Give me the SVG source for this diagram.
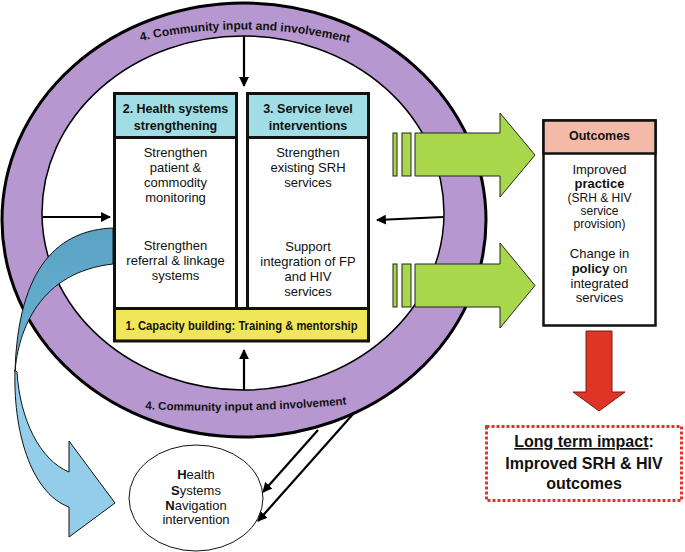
<svg xmlns="http://www.w3.org/2000/svg" width="685" height="552" viewBox="0 0 685 552">
<defs>
<style>
.body{font-family:"Liberation Sans",Arial,sans-serif;font-size:13px;fill:#111;text-anchor:middle}
.sm{font-size:12px}
.lg{font-size:16px;font-weight:bold}
.hdr{font-family:"Liberation Sans",Arial,sans-serif;font-size:12.5px;font-weight:bold;fill:#111;text-anchor:middle}
.cap{font-size:12px}
.ring{font-family:"Liberation Sans",Arial,sans-serif;font-weight:bold;fill:#111}
.b{font-weight:bold}
.box{stroke:#111;stroke-width:3}
.conn{stroke:#000;stroke-width:2.2;fill:none}
.green{fill:#a9d74b;stroke:#222;stroke-width:1}
</style>
<marker id="ah" viewBox="0 0 10 10" refX="9" refY="5" markerWidth="4.5" markerHeight="4.5" orient="auto" markerUnits="strokeWidth">
<path d="M0,0 L10,5 L0,10 Z" fill="#000"/>
</marker>
<linearGradient id="gb" x1="0" y1="0" x2="0" y2="1">
<stop offset="0" stop-color="#5aa3c5"/><stop offset="1" stop-color="#6ab2d2"/>
</linearGradient>
<path id="tp1" d="M 128 44 Q 245 14 362 46"/>
<path id="tp2" d="M 140 409 Q 245 414 352 404"/>
</defs>

<g id="ring">
<path fill="#b697cf" fill-rule="evenodd" d="M 2,220 A 242,217 0 1,0 486,220 A 242,217 0 1,0 2,220 Z M 42,213 A 201,177 0 1,0 444,213 A 201,177 0 1,0 42,213 Z"/>
<ellipse cx="244" cy="220" rx="242" ry="217" fill="none" stroke="#000" stroke-width="3"/>
<ellipse cx="243" cy="213" rx="201" ry="177" fill="none" stroke="#000" stroke-width="1.5"/>
<text class="ring" style="font-size:12px"><textPath href="#tp1" startOffset="50%" text-anchor="middle">4. Community input and involvement</textPath></text>
<text class="ring" style="font-size:11.5px"><textPath href="#tp2" startOffset="50%" text-anchor="middle">4. Community input and involvement</textPath></text>
</g>

<g id="connectors">
<line class="conn" x1="244" y1="36" x2="244" y2="86" marker-end="url(#ah)"/>
<line class="conn" x1="244" y1="390" x2="244" y2="350" marker-end="url(#ah)"/>
<line class="conn" x1="43" y1="217" x2="110" y2="217" marker-end="url(#ah)"/>
<line class="conn" x1="443" y1="217" x2="377" y2="220" marker-end="url(#ah)"/>
<line class="conn" x1="318" y1="430" x2="263" y2="492" marker-end="url(#ah)"/>
<line class="conn" x1="354" y1="413" x2="258" y2="521" marker-end="url(#ah)"/>
</g>

<g id="hss">
<rect class="box" x="114.5" y="93.5" width="122" height="215" fill="#fff"/>
<rect class="box" x="114.5" y="93.5" width="122" height="44" fill="#a0dde4"/>
<text class="hdr" x="175.5" y="113">2. Health systems</text>
<text class="hdr" x="175.5" y="130">strengthening</text>
<text class="body" x="175.5" y="156.5">Strengthen</text>
<text class="body" x="175.5" y="171.5">patient &amp;</text>
<text class="body" x="175.5" y="186.5">commodity</text>
<text class="body" x="175.5" y="201.5">monitoring</text>
<text class="body" x="175.5" y="249.5">Strengthen</text>
<text class="body" x="175.5" y="264.5">referral &amp; linkage</text>
<text class="body" x="175.5" y="279.5">systems</text>
</g>

<g id="sli">
<rect class="box" x="247.5" y="93.5" width="121" height="215" fill="#fff"/>
<rect class="box" x="247.5" y="93.5" width="121" height="44" fill="#a0dde4"/>
<text class="hdr" x="308" y="113">3. Service level</text>
<text class="hdr" x="308" y="130">interventions</text>
<text class="body" x="308" y="156.5">Strengthen</text>
<text class="body" x="308" y="171.5">existing SRH</text>
<text class="body" x="308" y="186.5">services</text>
<text class="body" x="308" y="250.5">Support</text>
<text class="body" x="308" y="265.5">integration of FP</text>
<text class="body" x="308" y="280.5">and HIV</text>
<text class="body" x="308" y="295.5">services</text>
</g>

<g id="capacity">
<rect class="box" x="114.5" y="308.5" width="254" height="32.5" fill="#f1e65a"/>
<text class="hdr cap" x="241.5" y="330" textLength="232" lengthAdjust="spacingAndGlyphs">1. Capacity building: Training &amp; mentorship</text>
</g>

<g id="hsn-arrow">
<path d="M113,228 C 60,230 18,265 15,372 C 18,330 40,272 113,264 Z" fill="url(#gb)" stroke="#111" stroke-width="1"/>
<path d="M15,370 C 13,440 35,495 69,507 L69,537 L115,503 L69,441 L69,472 C 40,460 20,420 17,372 Z" fill="#93cdea" stroke="#111" stroke-width="1"/>
</g>

<g id="green-arrows">
<rect class="green" x="393" y="133" width="4" height="43"/>
<rect class="green" x="402" y="133" width="9" height="43"/>
<path class="green" d="M415,133 L500,133 L500,113 L535,155 L500,197 L500,176 L415,176 Z"/>
<rect class="green" x="393" y="264" width="4" height="43"/>
<rect class="green" x="402" y="264" width="9" height="43"/>
<path class="green" d="M415,264 L500,264 L500,243 L535,285.5 L500,328 L500,307 L415,307 Z"/>
</g>

<g id="outcomes">
<rect x="543.5" y="120.5" width="112" height="205" fill="#fff" stroke="#111" stroke-width="2.5"/>
<rect x="543.5" y="120.5" width="112" height="33" fill="#f4baa8" stroke="#111" stroke-width="2.5"/>
<text class="hdr" x="599.5" y="139.5">Outcomes</text>
<text class="body" x="599.5" y="174">Improved</text>
<text class="body b" x="599.5" y="187.5">practice</text>
<text class="body sm" x="599.5" y="201.5">(SRH &amp; HIV</text>
<text class="body sm" x="599.5" y="214.5">service</text>
<text class="body sm" x="599.5" y="228">provision)</text>
<text class="body" x="599.5" y="258">Change in</text>
<text class="body" x="599.5" y="273"><tspan class="b">policy</tspan> on</text>
<text class="body" x="599.5" y="288">integrated</text>
<text class="body" x="599.5" y="302">services</text>
</g>

<g id="impact-arrow">
<path d="M586,331 L612,331 L612,392 L625,392 L599,411 L573,392 L586,392 Z" fill="#df3526" stroke="#7a1a10" stroke-width="1"/>
</g>

<g id="impact">
<rect x="486.5" y="426.5" width="195" height="74" fill="#fff" stroke="#e4332a" stroke-width="3" stroke-dasharray="3 2"/>
<text class="body lg" x="584" y="447"><tspan text-decoration="underline">Long term impact</tspan>:</text>
<text class="body lg" x="584" y="469">Improved SRH &amp; HIV</text>
<text class="body lg" x="584" y="489">outcomes</text>
</g>

<g id="hsn">
<ellipse cx="196" cy="498" rx="67" ry="53" fill="#fff" stroke="#111" stroke-width="1"/>
<text class="body" x="196" y="479"><tspan class="b">H</tspan>ealth</text>
<text class="body" x="196" y="494.5"><tspan class="b">S</tspan>ystems</text>
<text class="body" x="196" y="509.5"><tspan class="b">N</tspan>avigation</text>
<text class="body" x="196" y="524">intervention</text>
</g>
</svg>
